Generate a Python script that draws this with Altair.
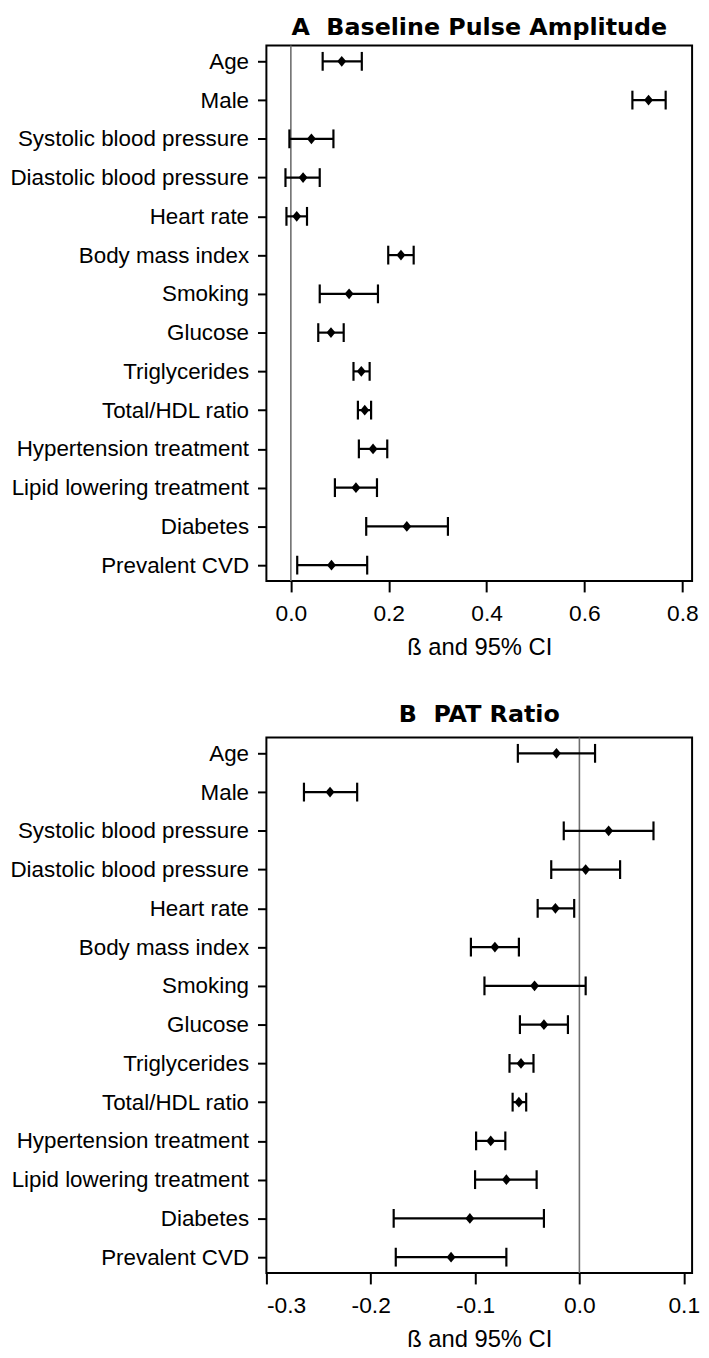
import altair as alt
import pandas as pd

categories = ["Age", "Male", "Systolic blood pressure", "Diastolic blood pressure",
              "Heart rate", "Body mass index", "Smoking", "Glucose", "Triglycerides",
              "Total/HDL ratio", "Hypertension treatment", "Lipid lowering treatment",
              "Diabetes", "Prevalent CVD"]

a_beta = [0.104, 0.731, 0.042, 0.025, 0.012, 0.225, 0.119, 0.082, 0.144, 0.151, 0.168, 0.133, 0.237, 0.083]
a_lo = [0.065, 0.698, -0.003, -0.011, -0.009, 0.199, 0.059, 0.056, 0.128, 0.137, 0.139, 0.090, 0.154, 0.013]
a_hi = [0.145, 0.766, 0.087, 0.059, 0.033, 0.251, 0.178, 0.108, 0.161, 0.164, 0.197, 0.176, 0.321, 0.156]

b_beta = [-0.022, -0.239, 0.028, 0.006, -0.023, -0.081, -0.043, -0.034, -0.056, -0.058, -0.085, -0.070, -0.105, -0.123]
b_lo = [-0.059, -0.264, -0.015, -0.027, -0.040, -0.104, -0.091, -0.057, -0.067, -0.064, -0.099, -0.100, -0.178, -0.176]
b_hi = [0.015, -0.213, 0.071, 0.039, -0.005, -0.058, 0.006, -0.011, -0.044, -0.051, -0.071, -0.041, -0.034, -0.070]

a_ticks = [0.0, 0.2, 0.4, 0.6, 0.8]
b_ticks = [-0.3, -0.2, -0.1, 0.0, 0.1]

FONT = "Liberation Sans"
W, H = 430, 541
DIAMOND = "M0,-1.1L0.9,0L0,1.1L-0.9,0Z"


def panel(title, beta, lo, hi, domain, ticks, title_offset):
    df = pd.DataFrame({"cat": categories, "beta": beta, "lo": lo, "hi": hi})
    yenc = alt.Y("cat:N", sort=categories,
                 scale=alt.Scale(type="point", padding=0.41),
                 axis=alt.Axis(title=None, labelFontSize=22.6, labelFont=FONT,
                               labelColor="black", labelLimit=0, tickColor="black",
                               tickSize=9, tickWidth=2, labelPadding=9,
                               domain=False, grid=False))
    xscale = alt.Scale(domain=domain, nice=False, zero=False)
    xaxis = alt.Axis(title="ß and 95% CI", values=ticks,
                     labelExpr="replace(format(datum.value, '.1f'), '\u2212', '-')",
                     labelFontSize=23, labelFont=FONT, labelColor="black",
                     titleFontSize=24, titleFont=FONT, titleFontWeight="normal",
                     titleColor="black", titlePadding=10,
                     tickColor="black", tickSize=11, tickWidth=2, labelPadding=11,
                     domain=False, grid=False)
    base = alt.Chart(df)
    zero = alt.Chart(pd.DataFrame({"z": [0.0]})).mark_rule(
        color="#6e6e6e", strokeWidth=1.6).encode(
        x=alt.X("z:Q", scale=xscale, axis=xaxis))
    line = base.mark_rule(color="black", strokeWidth=2.2).encode(
        x=alt.X("lo:Q", scale=xscale, axis=xaxis), x2="hi:Q", y=yenc)
    cap_lo = base.mark_tick(color="black", thickness=2.2, size=19, opacity=1).encode(
        x=alt.X("lo:Q", scale=xscale, axis=xaxis), y=yenc)
    cap_hi = base.mark_tick(color="black", thickness=2.2, size=19, opacity=1).encode(
        x=alt.X("hi:Q", scale=xscale, axis=xaxis), y=yenc)
    pt = base.mark_point(shape=DIAMOND, filled=True, color="black", size=100,
                         opacity=1).encode(
        x=alt.X("beta:Q", scale=xscale, axis=xaxis), y=yenc)
    return alt.layer(zero, line, cap_lo, cap_hi, pt).properties(
        width=W, height=H,
        view=alt.ViewBackground(stroke="black", strokeWidth=2, fill="white"),
        title=alt.TitleParams(title, fontSize=24, fontWeight="bold",
                              font="DejaVu Sans", color="black",
                              anchor="middle", offset=title_offset))


pa = panel("A\u00a0\u00a0Baseline Pulse Amplitude", a_beta, a_lo, a_hi,
           [-0.05, 0.82], a_ticks, 5)
pb = panel("B\u00a0\u00a0PAT Ratio", b_beta, b_lo, b_hi,
           [-0.3, 0.108], b_ticks, 10)

chart = alt.vconcat(pa, pb, spacing=42).properties(
    background="white",
    padding={"left": 0, "top": 0, "right": 0, "bottom": 0}
).configure_view(stroke="black", strokeWidth=2)

chart.save("out.html", embed_options={"renderer": "svg", "actions": False})
